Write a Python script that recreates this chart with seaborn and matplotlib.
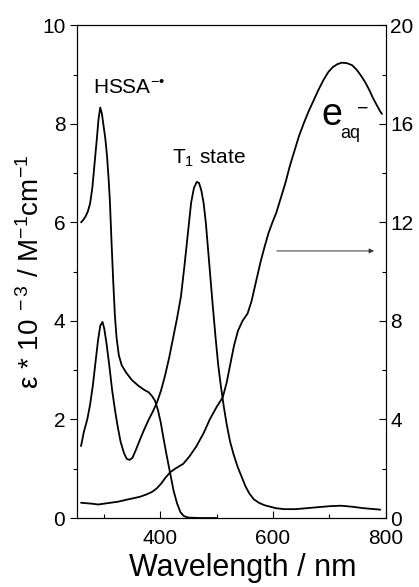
import matplotlib
matplotlib.use("Agg")
import matplotlib.pyplot as plt
import seaborn as sns
import pandas as pd

# HSSA radical anion spectrum (left axis, eps * 1e-3)
hssa_wl = [260, 264, 268, 272, 276, 280, 284, 288, 291, 294, 297, 300, 303, 306, 309,
           311, 314, 317, 320, 323, 327, 332, 340, 350, 362, 372, 380, 386, 391, 396,
           401, 406, 412, 418, 424, 430, 436, 442, 450, 470, 500]
hssa_eps = [6.0, 6.05, 6.12, 6.22, 6.38, 6.7, 7.2, 7.7, 8.1, 8.33, 8.2, 7.95, 7.7, 7.35,
            6.85, 6.45, 5.6, 4.8, 4.1, 3.65, 3.3, 3.1, 2.95, 2.8, 2.68, 2.6, 2.55, 2.47,
            2.38, 2.2, 1.95, 1.62, 1.25, 0.9, 0.55, 0.3, 0.12, 0.04, 0.01, 0.0, 0.0]

# T1 state spectrum (left axis)
t1_wl = [260, 265, 271, 276, 281, 286, 290, 294, 298, 301, 305, 310, 315, 320, 325, 330,
         336, 341, 346, 351, 357, 364, 372, 380, 388, 395, 402, 409, 416, 423, 430, 437,
         443, 449, 455, 460, 465, 469, 473, 477, 481, 485, 489, 493, 498, 503, 508, 513,
         518, 524, 530, 537, 544, 551, 558, 566, 575, 585, 595, 605, 620, 640, 660, 680,
         700, 720, 740, 760, 780, 790]
t1_eps = [1.46, 1.75, 2.0, 2.3, 2.7, 3.2, 3.6, 3.9, 3.98, 3.85, 3.55, 3.1, 2.6, 2.2, 1.85,
          1.55, 1.32, 1.2, 1.18, 1.22, 1.38, 1.58, 1.8, 2.0, 2.18, 2.36, 2.6, 2.9, 3.25,
          3.65, 4.05, 4.5, 5.1, 5.75, 6.4, 6.7, 6.82, 6.8, 6.65, 6.4, 6.0, 5.45, 4.9, 4.35,
          3.7, 3.1, 2.65, 2.25, 1.9, 1.55, 1.3, 1.05, 0.85, 0.65, 0.5, 0.38, 0.31, 0.26,
          0.23, 0.2, 0.18, 0.18, 0.2, 0.22, 0.24, 0.25, 0.23, 0.2, 0.18, 0.17]

# hydrated electron spectrum (right axis)
e_wl = [260, 270, 280, 290, 300, 312, 325, 340, 352, 364, 375, 385, 394, 402, 410, 418,
        428, 441, 452, 464, 477, 488, 500, 511, 518, 524, 531, 538, 546, 555, 562, 570,
        578, 585, 592, 599, 606, 614, 622, 630, 638, 646, 655, 663, 672, 681, 690, 698,
        706, 714, 722, 731, 740, 748, 756, 763, 770, 777, 784, 790, 793]
e_val = [0.62, 0.6, 0.58, 0.55, 0.58, 0.62, 0.66, 0.74, 0.8, 0.86, 0.95, 1.05, 1.2, 1.4,
         1.65, 1.86, 2.02, 2.2, 2.5, 2.9, 3.44, 4.0, 4.5, 4.9, 5.5, 6.2, 7.0, 7.6, 8.0,
         8.3, 8.8, 9.6, 10.4, 11.0, 11.56, 12.0, 12.4, 13.0, 13.6, 14.3, 14.9, 15.5,
         16.05, 16.5, 16.95, 17.4, 17.8, 18.1, 18.3, 18.42, 18.48, 18.46, 18.38, 18.2,
         17.95, 17.7, 17.4, 17.05, 16.75, 16.5, 16.4]

sns.set_style("ticks")
plt.rcParams["font.family"] = ["Liberation Sans", "DejaVu Sans"]
plt.rcParams["mathtext.fontset"] = "custom"
plt.rcParams["mathtext.rm"] = "Liberation Sans"
plt.rcParams["mathtext.it"] = "Liberation Sans"
plt.rcParams["text.color"] = "black"
plt.rcParams["axes.labelcolor"] = "black"
plt.rcParams["xtick.color"] = "black"
plt.rcParams["ytick.color"] = "black"

fig = plt.figure(figsize=(4.19, 5.87), dpi=100)
ax = fig.add_axes([0.184, 0.1175, 0.737, 0.8395])
ax2 = ax.twinx()

df_hssa = pd.DataFrame({"wl": hssa_wl, "eps": hssa_eps})
df_t1 = pd.DataFrame({"wl": t1_wl, "eps": t1_eps})
df_e = pd.DataFrame({"wl": e_wl, "eps": e_val})

lw = 1.3
sns.lineplot(data=df_hssa, x="wl", y="eps", ax=ax, color="black", lw=lw)
sns.lineplot(data=df_t1, x="wl", y="eps", ax=ax, color="black", lw=lw)
sns.lineplot(data=df_e, x="wl", y="eps", ax=ax2, color="black", lw=lw)

ax.set_xlim(253, 800)
ax.set_ylim(0, 10)
ax2.set_ylim(0, 20)

ax.set_xticks([400, 600, 800])
ax.set_xticks([300, 500, 700], minor=True)
ax.set_yticks([0, 2, 4, 6, 8, 10])
ax.set_yticks([1, 3, 5, 7, 9], minor=True)
ax2.set_yticks([0, 4, 8, 12, 16, 20])
ax2.set_yticks([2, 6, 10, 14, 18], minor=True)

ax.tick_params(axis="y", which="both", direction="out", labelsize=15, width=0.8)
ax.tick_params(axis="y", which="major", length=5)
ax.tick_params(axis="y", which="minor", length=3)
ax.tick_params(axis="x", which="both", direction="in", labelsize=15, width=0.8, pad=8)
ax.tick_params(axis="x", which="major", length=5)
ax.tick_params(axis="x", which="minor", length=3)
ax2.tick_params(axis="y", which="both", direction="in", labelsize=15, width=0.8, pad=3)
ax2.tick_params(axis="y", which="major", length=5)
ax2.tick_params(axis="y", which="minor", length=3)

for a in (ax, ax2):
    for s in a.spines.values():
        s.set_linewidth(0.8)
        s.set_color("black")

ax.set_xlabel("Wavelength / nm", fontsize=22)
ax.xaxis.set_label_coords(0.535, -0.07)
ax.set_ylabel(r"ε * 10$^{\ -3}$ / M$^{-1}$cm$^{-1}$", fontsize=20)
ax.yaxis.set_label_coords(-0.104, 0.5)
ax2.set_ylabel("")

ax.text(281, 8.72, r"HSSA$^{-•}$", fontsize=15, va="center", ha="left")
ax.text(421, 7.3, r"T$_{1}$ state", fontsize=15, va="center", ha="left")
ax.text(686, 7.97, "e", fontsize=27, va="baseline", ha="left")
ax.text(719, 7.72, "aq", fontsize=13, va="baseline", ha="left")
ax.text(749, 8.3, "−", fontsize=14, va="center", ha="left")

ax.annotate("", xy=(784, 5.42), xytext=(602, 5.42),
            arrowprops=dict(arrowstyle="-|>", color="#333333", lw=0.7,
                            mutation_scale=7))

fig.savefig("out.png", dpi=100)
